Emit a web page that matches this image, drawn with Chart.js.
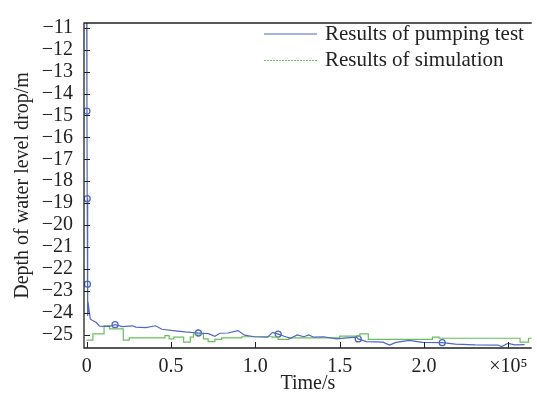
<!DOCTYPE html>
<html>
<head>
<meta charset="utf-8">
<script src="https://cdn.jsdelivr.net/npm/chart.js@4"></script>
<style>
  html, body { margin: 0; padding: 0; background: #fff; }
  #wrap { width: 537px; height: 403px; }
</style>
</head>
<body>
<div id="wrap"><canvas id="drawdownChart"></canvas></div>
<script>
// Time (s) and depth of water level drop (m)
const pumpTime = [0, 150, 300, 450, 700, 1100, 2170, 5690, 7620, 13480, 16820, 21100, 27140, 29130,
  35000, 40860, 44550, 52580, 58440, 66240, 72100, 76030, 78960, 83820, 89680, 93610, 99470,
  107270, 110200, 113540, 117060, 120930, 124850, 128780, 131710, 134640, 140500, 148300,
  154160, 160020, 161020, 165890, 175670, 179540, 183470, 191260, 199120, 210840, 218640,
  230360, 243850, 246010, 249890, 253810, 259670];
const pumpDepth = [-10.5, -14.8, -18.8, -22.7, -24.15, -23.7, -24.3, -24.45, -24.62, -24.63, -24.55,
  -24.64, -24.6, -24.66, -24.68, -24.6, -24.76, -24.83, -24.88, -24.93, -24.96, -25.08, -24.94,
  -24.93, -24.82, -25.03, -25.1, -25.12, -24.9, -24.98, -25.08, -25.17, -25.02, -25.1, -25.02,
  -25.12, -25.1, -25.2, -25.15, -25.12, -25.2, -25.32, -25.35, -25.48, -25.36, -25.27, -25.36,
  -25.37, -25.44, -25.47, -25.48, -25.55, -25.4, -25.47, -25.46];

// open circle markers on the pumping test curve
const markerTime = [150, 300, 450, 16820, 66240, 113540, 161020, 210840];
const markerDepth = [-14.8, -18.8, -22.7, -24.55, -24.93, -24.98, -25.2, -25.37];

// simulation is a step curve: each value holds from its time on
const simTime = [0, 3700, 10300, 13500, 21700, 25200, 46400, 48900, 51600, 57500, 61400, 63300,
  69200, 72000, 76000, 80000, 92000, 110000, 113500, 120000, 150000, 162000, 167000, 205000,
  209000, 257000, 262000, 266000];
const simDepth = [-25.25, -24.97, -24.6, -24.74, -25.25, -25.15, -25.05, -25.2, -25.12, -25.35,
  -25.12, -24.97, -25.2, -25.32, -25.22, -25.15, -25.1, -25.12, -25.22, -25.15, -25.07, -24.97,
  -25.22, -25.12, -25.17, -25.35, -25.17, -25.17];

const seriesNames = ['Results of pumping test', 'Results of simulation'];
const xTicks = [0, 50000, 100000, 150000, 200000, 250000];
const xTickLabels = ['0', '0.5', '1.0', '1.5', '2.0', '\u00d710\u2075'];
const yTicks = [-25, -24, -23, -22, -21, -20, -19, -18, -17, -16, -15, -14, -13, -12, -11];

const BLUE = '#4f67c4';
const GREEN = '#6cbd5c';
const SERIF = '"Liberation Serif", "Times New Roman", serif';

const toPoints = (xs, ys) => xs.map((x, i) => ({ x: x, y: ys[i] }));

// frame, inward tick marks and the in-plot legend
const framePlugin = {
  id: 'frame',
  afterDatasetsDraw(chart) {
    const { ctx, chartArea: a, scales } = chart;
    ctx.save();
    ctx.strokeStyle = '#222';
    ctx.lineWidth = 1.3;
    ctx.beginPath();
    ctx.moveTo(a.right, a.top);
    ctx.lineTo(a.left, a.top);
    ctx.lineTo(a.left, a.bottom);
    ctx.lineTo(a.right, a.bottom);
    ctx.stroke();

    ctx.lineWidth = 1;
    ctx.beginPath();
    scales.x.ticks.forEach(t => {
      const px = Math.round(scales.x.getPixelForValue(t.value)) + 0.5;
      ctx.moveTo(px, a.bottom);
      ctx.lineTo(px, a.bottom - 6);
    });
    scales.y.ticks.forEach(t => {
      const py = Math.round(scales.y.getPixelForValue(t.value)) + 0.5;
      ctx.moveTo(a.left, py);
      ctx.lineTo(a.left + 6, py);
    });
    ctx.stroke();

    // legend
    ctx.font = '21px ' + SERIF;
    ctx.fillStyle = '#222';
    ctx.textBaseline = 'middle';
    chart.data.datasets.slice(0, 2).forEach((ds, i) => {
      const y = 34 + i * 26.5;
      ctx.strokeStyle = ds.borderColor;
      ctx.lineWidth = 1.2;
      ctx.setLineDash(i === 1 ? [2, 1] : []);
      ctx.beginPath();
      ctx.moveTo(264, y);
      ctx.lineTo(317, y);
      ctx.stroke();
      ctx.setLineDash([]);
      ctx.fillText(ds.label, 325, y);
    });
    ctx.restore();
  }
};

new Chart(document.getElementById('drawdownChart'), {
  type: 'line',
  data: {
    datasets: [
      {
        label: seriesNames[0],
        data: toPoints(pumpTime, pumpDepth),
        borderColor: BLUE,
        borderWidth: 1.2,
        pointRadius: 0,
        tension: 0
      },
      {
        label: seriesNames[1],
        data: toPoints(simTime, simDepth),
        borderColor: GREEN,
        borderWidth: 1.2,
        pointRadius: 0,
        stepped: true
      },
      {
        label: 'markers',
        data: toPoints(markerTime, markerDepth),
        showLine: false,
        pointRadius: 3,
        pointBorderWidth: 1.3,
        pointBorderColor: BLUE,
        pointBackgroundColor: 'rgba(0,0,0,0)'
      }
    ]
  },
  options: {
    responsive: true,
    maintainAspectRatio: false,
    animation: false,
    layout: { padding: { top: 10, right: 0, left: 0, bottom: 0 } },
    plugins: {
      legend: { display: false },
      tooltip: { enabled: false }
    },
    scales: {
      x: {
        type: 'linear',
        min: -1600,
        max: 263900,
        grid: { display: false, drawTicks: false },
        border: { display: false },
        afterFit: s => { s.height = 55; },
        afterBuildTicks: s => { s.ticks = xTicks.map(v => ({ value: v })); },
        ticks: {
          maxRotation: 0,
          autoSkip: false,
          padding: 7,
          color: '#222',
          font: { family: SERIF, size: 20 },
          callback: (v, i) => xTickLabels[i]
        },
        title: {
          display: true,
          text: 'Time/s',
          color: '#222',
          font: { family: SERIF, size: 20 },
          padding: { top: 0, bottom: 7 }
        }
      },
      y: {
        min: -25.614,
        max: -10.78,
        grid: { display: false, drawTicks: false },
        border: { display: false },
        afterFit: s => { s.width = 84; },
        afterBuildTicks: s => { s.ticks = yTicks.map(v => ({ value: v })); },
        ticks: {
          autoSkip: false,
          padding: 11,
          color: '#222',
          font: { family: SERIF, size: 20 },
          callback: v => '\u2212' + Math.abs(v)
        },
        title: {
          display: true,
          text: 'Depth of water level drop/m',
          color: '#222',
          font: { family: SERIF, size: 20 },
          padding: { top: 11, bottom: 0 }
        }
      }
    }
  },
  plugins: [framePlugin]
});
</script>
</body>
</html>
